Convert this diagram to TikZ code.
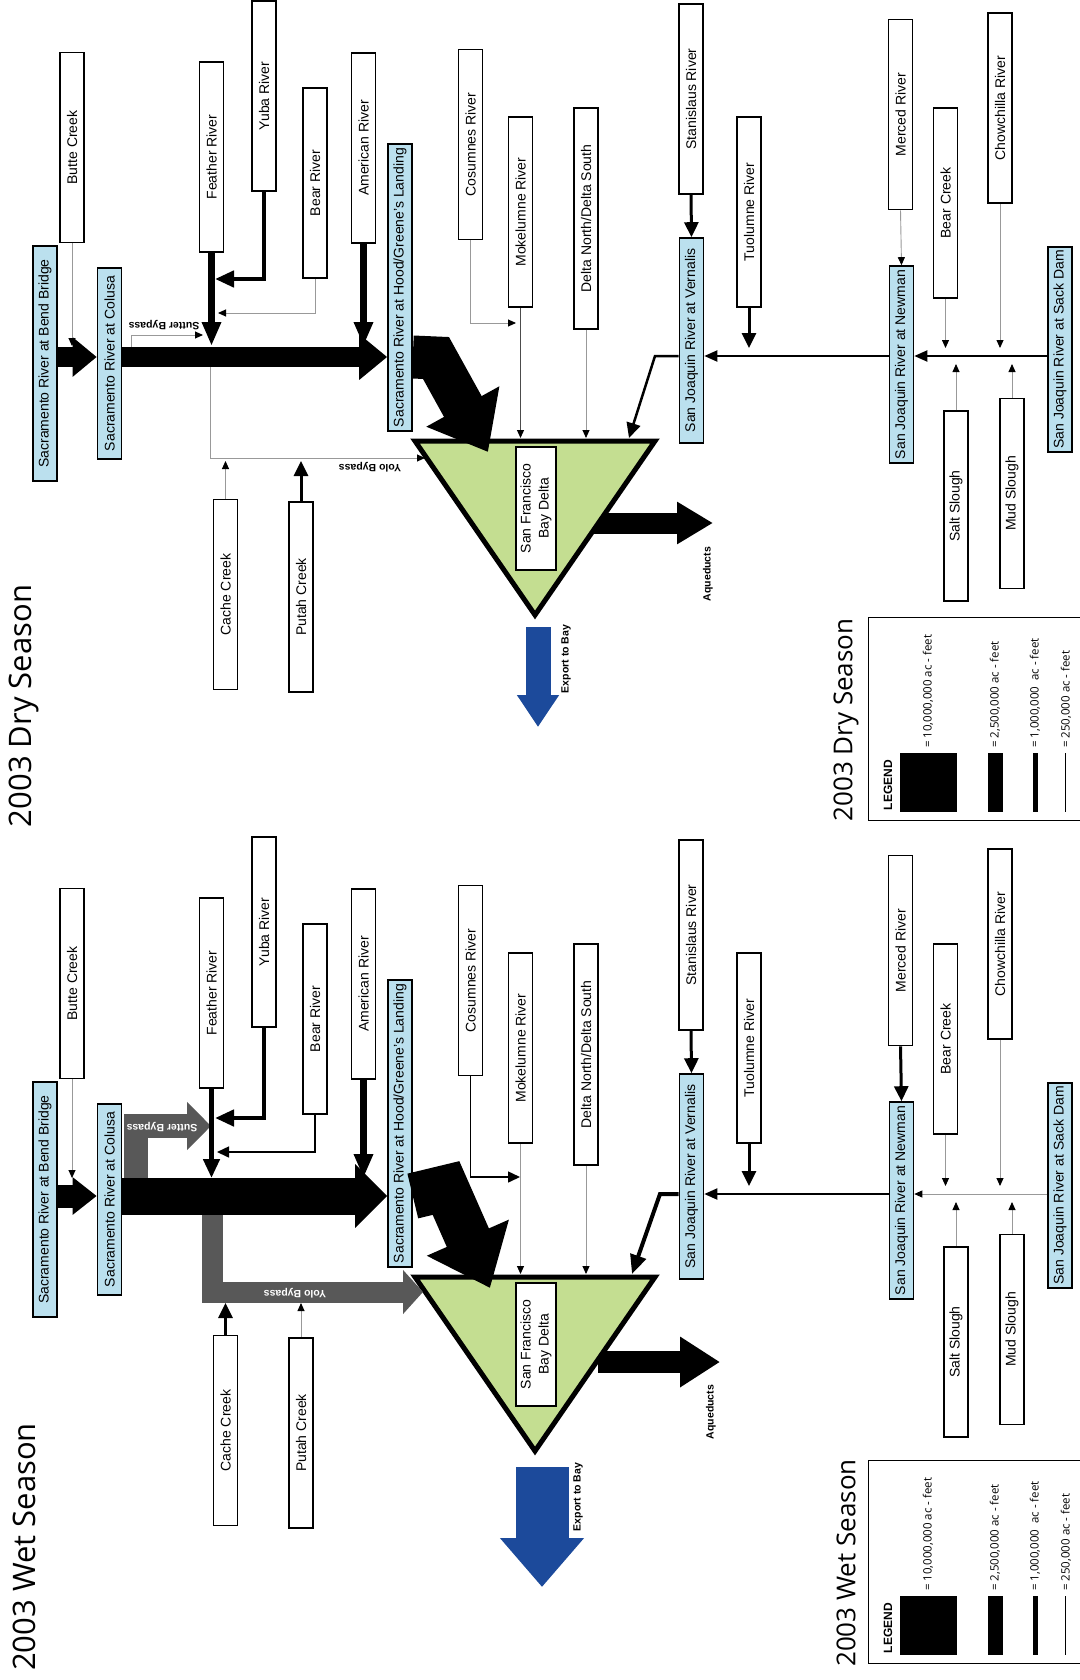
\documentclass[tikz,border=0pt]{standalone}
\usepackage{fontspec}
\setmainfont{Liberation Sans}
\newfontfamily\titlefont{Open Sans}
\usepackage{tikz}
\usetikzlibrary{positioning}
\usetikzlibrary{arrows.meta}
\usetikzlibrary{calc}

\definecolor{gaugeblue}{RGB}{187,224,238}
\definecolor{deltagreen}{RGB}{196,222,145}
\definecolor{exportblue}{RGB}{28,74,155}
\definecolor{bypass}{RGB}{88,88,88}

\tikzstyle{river}=[draw, line width=1.6pt, fill=white, rotate=90, minimum width=190pt, minimum height=24pt, inner sep=0pt, font=\fontsize{14}{16}\selectfont]
\tikzstyle{gauge}=[river, fill=gaugeblue]
\tikzstyle{trickle}=[draw=black!40, line width=0.9pt, -{Triangle[width=7pt,length=8pt,color=black]}]
\tikzstyle{medflow}=[line width=3pt, -{Triangle[width=14pt,length=15pt]}]
\tikzstyle{bigflow}=[line width=4.5pt, -{Triangle[width=16pt,length=19pt]}]
\tikzstyle{hugeflow}=[line width=7pt, -{Triangle[width=18pt,length=24pt]}]
\tikzstyle{fat}=[line join=miter, line cap=butt]
\tikzstyle{lbl}=[font=\fontsize{10.5}{12}\selectfont\bfseries, inner sep=0pt]
\tikzstyle{legtext}=[font=\titlefont\fontsize{11.5}{12}\selectfont, rotate=90, anchor=west, inner sep=0pt]

% boxes shared by both seasons
\newcommand{\riverboxes}{%
  \node[gauge, minimum width=235pt] (bb) at (45,363.5) {Sacramento River at Bend Bridge};
  \node[gauge, minimum width=191pt] (col) at (109.5,363.5) {Sacramento River at Colusa};
  \node[river] (but) at (72,147.5) {Butte Creek};
  \node[river] (fea) at (211.5,157) {Feather River};
  \node[river] (yub) at (264,96) {Yuba River};
  \node[river] (bea) at (315,183) {Bear River};
  \node[river] (ame) at (363.5,148) {American River};
  \node[gauge, minimum width=287pt] (hood) at (400,287.5) {Sacramento River at Hood/Greene's Landing};
  \node[river] (cac) at (225.5,594.5) {Cache Creek};
  \node[river] (put) at (301,597) {Putah Creek};
  \node[river] (cos) at (470.5,144.5) {Cosumnes River};
  \node[river] (mok) at (520.5,212) {Mokelumne River};
  \node[river, minimum width=221pt] (dns) at (586,218.5) {Delta North/Delta South};
  \node[river] (sta) at (691,99) {Stanislaus River};
  \node[gauge, minimum width=205pt] (ver) at (691.5,340.5) {San Joaquin River at Vernalis};
  \node[river] (tuo) at (749,212) {Tuolumne River};
  \node[river] (mer) at (900.5,114.5) {Merced River};
  \node[gauge, minimum width=197pt] (new) at (901.5,364.5) {San Joaquin River at Newman};
  \node[river] (bcr) at (945.5,203) {Bear Creek};
  \node[river] (cho) at (1000,108) {Chowchilla River};
  \node[gauge, minimum width=205pt] (sack) at (1060,349.5) {San Joaquin River at Sack Dam};
  \node[river] (sal) at (956,506) {Salt Slough};
  \node[river] (mud) at (1012,493.5) {Mud Slough};
}

\newcommand{\baydelta}{%
  \draw[fill=deltagreen, line width=5pt, line join=miter] (415,441) -- (655,441) -- (535,615) -- cycle;
  \node[river, minimum width=123pt, minimum height=40pt, align=center, font=\fontsize{14}{18}\selectfont] (sfd) at (536,508.5) {San Francisco\\Bay Delta};
}

% legend, #1 = season
\newcommand{\seasonlegend}[1]{%
  \node[font=\titlefont\fontsize{26}{26}\selectfont, rotate=90, inner sep=0pt] (lgt) at (846,720) {2003 #1 Season};
  \draw[line width=1pt] (868,617) rectangle (1090,820);
  \node[font=\fontsize{12}{12}\selectfont\bfseries, rotate=90, inner sep=0pt] (lgh) at (888,785) {LEGEND};
  \fill (900,753) rectangle (957,812);
  \fill (988,753) rectangle (1003,812);
  \fill (1033,753) rectangle (1038,812);
  \draw[line width=0.8pt] (1065,753) -- (1065,812);
  \node[legtext] (lg1) at (928,748) {= 10,000,000 ac - feet};
  \node[legtext] (lg2) at (995,748) {= 2,500,000 ac - feet};
  \node[legtext] (lg3) at (1035,748) {= 1,000,000 \ ac - feet};
  \node[legtext] (lg4) at (1066,748) {= 250,000 ac - feet};
}

\begin{document}
\begin{tikzpicture}[x=1pt, y=-1pt]
\useasboundingbox[fill=white] (0,0) rectangle (1079,1680);

% ---------------- dry season ----------------
\begin{scope}[name prefix=d-]
  \node[font=\titlefont\fontsize{31}{31}\selectfont, rotate=90, inner sep=0pt] (ttl) at (24,706) {2003 Dry Season};
  \coordinate (bar) at (0,357);
  \coordinate (bartop) at (0,346);
  \coordinate (sj) at (0,356);
  \coordinate (sjtop) at (0,348);
  \coordinate (sjbot) at (0,364);
  \coordinate (dtop) at (0,438);
  \coordinate (yolobot) at (0,461);
  % aqueducts
  \coordinate (aq1) at (592,523);
  \coordinate (aq2) at (713,523);
  \draw[fat, line width=21pt, -{Triangle[width=40pt,length=36pt]}] (aq1) -- (aq2);
  \baydelta
  \riverboxes
  \node[lbl, rotate=90] (aql) at (708,574) {Aqueducts};
  % export
  \coordinate (ex1) at (538,627);
  \coordinate (ex2) at (538,727);
  \draw[fat, exportblue, line width=25pt, -{Triangle[width=40pt,length=32pt]}] (ex1) -- (ex2);
  \node[lbl, rotate=90] (exl) at (566,659) {Export to Bay};
  % sacramento
  \draw[fat, line width=20pt, -{Triangle[width=38pt,length=24pt]}] (bb.south |- bar) -- (col.north |- bar);
  \draw[fat, line width=20pt, -{Triangle[width=44pt,length=28pt]}] (col.south |- bar) -- (hood.north |- bar);
  \draw[trickle] (but.west) -- (but.west |- bartop);
  \draw[hugeflow] (fea.west) -- (fea.west |- bartop);
  \coordinate (fj) at (215,279);
  \draw[bigflow] (yub.west) |- (fj);
  \coordinate (bj) at (218,313);
  \draw[trickle] (bea.west) |- (bj);
  \draw[hugeflow] (ame.west) -- (ame.west |- bartop);
  \coordinate (su1) at (131,347);
  \coordinate (su2) at (203,335);
  \draw[trickle] (su1) |- (su2);
  \node[lbl, rotate=180] (sul) at (164,325) {Sutter Bypass};
  \coordinate (yo1) at (210,367);
  \coordinate (yo2) at (425,458);
  \draw[trickle] (yo1) |- (yo2);
  \node[lbl, rotate=180] (yol) at (370,467) {Yolo Bypass};
  \draw[trickle] (cac.east) -- (cac.east |- yolobot);
  \draw[medflow] (put.east) -- (put.east |- yolobot);
  \coordinate (hb) at (436,358);
  \coordinate (ht) at (488,452);
  \draw[fat, line width=43pt, -{Triangle[width=80pt,length=52pt]}] (hood.south |- bar) -- (hb) -- (ht);
  % delta side
  \coordinate (cj) at (516,323);
  \draw[trickle] (cos.west) |- (cj);
  \draw[trickle, draw=black!70, line width=1.3pt] (mok.west) -- (mok.west |- dtop);
  \draw[trickle] (dns.west) -- (dns.west |- dtop);
  % san joaquin
  \draw[medflow] (sta.west) -- (ver.east);
  \coordinate (vj) at (655,356);
  \coordinate (vt) at (629,438);
  \draw[medflow, line width=2.5pt, line join=miter] (ver.north |- sj) -- (vj) -- (vt);
  \draw[medflow] (tuo.west) -- (tuo.west |- sjtop);
  \draw[line width=2pt, -{Triangle[width=11pt,length=13pt]}] (new.north |- sj) -- (ver.south |- sj);
  \draw[trickle] (mer.west) -- (new.east);
  \draw[line width=2pt, -{Triangle[width=11pt,length=13pt]}] (sack.north |- sj) -- (new.south |- sj);
  \draw[trickle] (bcr.west) -- (bcr.west |- sjtop);
  \draw[trickle] (cho.west) -- (cho.west |- sjtop);
  \draw[trickle] (sal.east) -- (sal.east |- sjbot);
  \draw[trickle] (mud.east) -- (mud.east |- sjbot);
  \seasonlegend{Dry}
\end{scope}

% ---------------- wet season ----------------
\begin{scope}[shift={(0,836)}, name prefix=w-]
  \node[font=\titlefont\fontsize{31}{31}\selectfont, rotate=90, inner sep=0pt] (ttl) at (24,711) {2003 Wet Season};
  \coordinate (bar) at (0,360);
  \coordinate (bartop) at (0,342);
  \coordinate (sj) at (0,358);
  \coordinate (sjtop) at (0,350);
  \coordinate (sjbot) at (0,366);
  \coordinate (dtop) at (0,438);
  \coordinate (yolobot) at (0,467);
  % aqueducts
  \coordinate (aq1) at (598,526);
  \coordinate (aq2) at (720,526);
  \draw[fat, line width=22pt, -{Triangle[width=48pt,length=40pt]}] (aq1) -- (aq2);
  \baydelta
  \riverboxes
  \node[lbl, rotate=90] (aql) at (711,576) {Aqueducts};
  % export
  \coordinate (ex1) at (542,631);
  \coordinate (ex2) at (542,751);
  \draw[fat, exportblue, line width=53pt, -{Triangle[width=81pt,length=49pt]}] (ex1) -- (ex2);
  \node[lbl, rotate=90] (exl) at (578,661) {Export to Bay};
  % sacramento
  \draw[fat, line width=23pt, -{Triangle[width=36pt,length=24pt]}] (bb.south |- bar) -- (col.north |- bar);
  \coordinate (su1) at (136,344);
  \coordinate (su2) at (211,290);
  \draw[fat, draw=bypass, line width=24pt, -{Triangle[width=47pt,length=24pt]}] (su1) |- (su2);
  \node[lbl, text=white, rotate=180] (sul) at (162,291) {Sutter Bypass};
  \coordinate (yo1) at (212,376);
  \coordinate (yo2) at (423,456);
  \draw[fat, draw=bypass, line width=21pt, -{Triangle[width=43pt,length=20pt]}] (yo1) |- (yo2);
  \node[lbl, text=white, rotate=180] (yol) at (295,457) {Yolo Bypass};
  \draw[fat, line width=37pt, -{Triangle[width=62pt,length=32pt]}] (col.south |- bar) -- (hood.north |- bar);
  \draw[trickle] (but.west) -- (but.west |- bartop);
  \draw[bigflow] (fea.west) -- (fea.west |- bartop);
  \coordinate (fj) at (215,282);
  \draw[bigflow] (yub.west) |- (fj);
  \coordinate (bj) at (217,316);
  \draw[line width=1.5pt, -{Triangle[width=11pt,length=12pt]}] (bea.west) |- (bj);
  \draw[hugeflow] (ame.west) -- (ame.west |- bartop);
  \draw[medflow] (cac.east) -- (cac.east |- yolobot);
  \draw[trickle] (put.east) -- (put.east |- yolobot);
  \coordinate (hb) at (446,352);
  \coordinate (ht) at (490,452);
  \draw[fat, line width=46pt, -{Triangle[width=86pt,length=55pt]}] (hood.south |- bar) -- (hb) -- (ht);
  % delta side
  \coordinate (cj) at (520,341);
  \draw[line width=1.5pt, -{Triangle[width=11pt,length=12pt]}] (cos.west) |- (cj);
  \draw[trickle] (mok.west) -- (mok.west |- dtop);
  \draw[trickle] (dns.west) -- (dns.west |- dtop);
  % san joaquin
  \draw[medflow] (sta.west) -- (ver.east);
  \coordinate (vj) at (660,358);
  \coordinate (vt) at (632,438);
  \draw[bigflow, line width=4pt, line join=miter] (ver.north |- sj) -- (vj) -- (vt);
  \draw[medflow] (tuo.west) -- (tuo.west |- sjtop);
  \draw[line width=2pt, -{Triangle[width=11pt,length=13pt]}] (new.north |- sj) -- (ver.south |- sj);
  \draw[medflow] (mer.west) -- (new.east);
  \draw[trickle] (sack.north |- sj) -- (new.south |- sj);
  \draw[trickle] (bcr.west) -- (bcr.west |- sjtop);
  \draw[trickle] (cho.west) -- (cho.west |- sjtop);
  \draw[trickle] (sal.east) -- (sal.east |- sjbot);
  \draw[trickle] (mud.east) -- (mud.east |- sjbot);
  \begin{scope}[shift={(0,7)}]
    \seasonlegend{Wet}
  \end{scope}
\end{scope}
\end{tikzpicture}
\end{document}
